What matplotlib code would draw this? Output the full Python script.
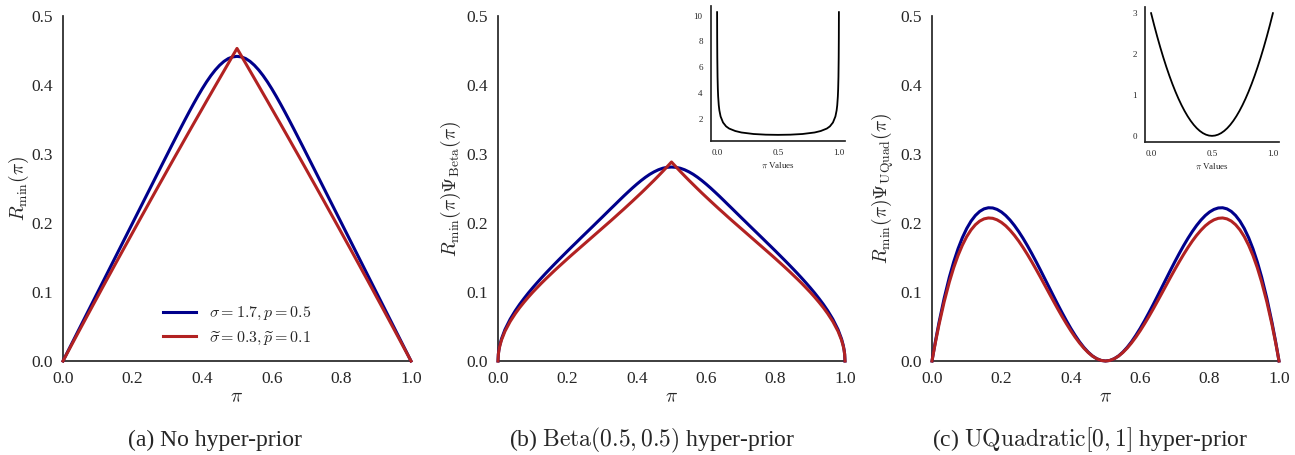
import matplotlib
matplotlib.use('Agg')
import matplotlib.pyplot as plt

# prior values on the x axis (same grid for all three panels)
pi_vals = [0.0, 0.001, 0.0025, 0.005, 0.01, 0.02, 0.035, 0.05, 0.0625, 0.075, 0.0875, 0.1, 0.1125,
           0.125, 0.1375, 0.15, 0.1625, 0.175, 0.1875, 0.2, 0.2125, 0.225, 0.2375, 0.25, 0.2625,
           0.275, 0.2875, 0.3, 0.3125, 0.325, 0.3375, 0.35, 0.3625, 0.375, 0.3875, 0.4, 0.4125,
           0.425, 0.4375, 0.45, 0.4625, 0.475, 0.4875, 0.5,
           0.5125, 0.525, 0.5375, 0.55, 0.5625, 0.575, 0.5875, 0.6, 0.6125, 0.625, 0.6375, 0.65,
           0.6625, 0.675, 0.6875, 0.7, 0.7125, 0.725, 0.7375, 0.75, 0.7625, 0.775, 0.7875, 0.8,
           0.8125, 0.825, 0.8375, 0.85, 0.8625, 0.875, 0.8875, 0.9, 0.9125, 0.925, 0.9375, 0.95,
           0.965, 0.98, 0.99, 0.995, 0.9975, 0.999, 1.0]

# (a) R_min(pi), no hyper-prior
a_blue = [0.0, 0.001, 0.0025, 0.005, 0.01, 0.02, 0.035, 0.05, 0.0625, 0.075, 0.0875, 0.1, 0.1125,
          0.125, 0.1375, 0.15, 0.1625, 0.175, 0.1875, 0.2, 0.2125, 0.225, 0.2375, 0.25, 0.2625,
          0.275, 0.2875, 0.2999, 0.3124, 0.3247, 0.3370, 0.3491, 0.3610, 0.3726, 0.3838, 0.3945, 0.4045,
          0.4136, 0.4217, 0.4286, 0.4342, 0.4383, 0.4407, 0.4415,
          0.4407, 0.4383, 0.4342, 0.4286, 0.4217, 0.4136, 0.4045, 0.3945, 0.3838, 0.3726, 0.3610, 0.3491,
          0.3370, 0.3247, 0.3124, 0.2999, 0.2875, 0.275, 0.2625, 0.25, 0.2375, 0.225, 0.2125, 0.2,
          0.1875, 0.175, 0.1625, 0.15, 0.1375, 0.125, 0.1125, 0.1, 0.0875, 0.075, 0.0625, 0.05,
          0.035, 0.02, 0.01, 0.005, 0.0025, 0.001, 0.0]
a_red = [0.0, 0.00095, 0.00237, 0.00473, 0.00946, 0.0189, 0.0330, 0.0471, 0.0588, 0.0705, 0.0822, 0.0938, 0.1055,
         0.1171, 0.1286, 0.1402, 0.1517, 0.1632, 0.1746, 0.1861, 0.1975, 0.2089, 0.2202, 0.2316, 0.2429,
         0.2542, 0.2654, 0.2767, 0.2879, 0.2991, 0.3102, 0.3214, 0.3325, 0.3436, 0.3546, 0.3656, 0.3767,
         0.3876, 0.3986, 0.4095, 0.4204, 0.4313, 0.4422, 0.4530,
         0.4422, 0.4313, 0.4204, 0.4095, 0.3986, 0.3876, 0.3767, 0.3656, 0.3546, 0.3436, 0.3325, 0.3214,
         0.3102, 0.2991, 0.2879, 0.2767, 0.2654, 0.2542, 0.2429, 0.2316, 0.2202, 0.2089, 0.1975, 0.1861,
         0.1746, 0.1632, 0.1517, 0.1402, 0.1286, 0.1171, 0.1055, 0.0938, 0.0822, 0.0705, 0.0588, 0.0471,
         0.0330, 0.0189, 0.00946, 0.00473, 0.00237, 0.00095, 0.0]

# (b) R_min(pi) * Psi_Beta(pi)
b_blue = [0.0, 0.0101, 0.0159, 0.0226, 0.0320, 0.0455, 0.0606, 0.0730, 0.0822, 0.0906, 0.0986, 0.1061, 0.1133,
          0.1203, 0.1271, 0.1337, 0.1402, 0.1466, 0.1529, 0.1592, 0.1654, 0.1715, 0.1777, 0.1838, 0.1899,
          0.1960, 0.2022, 0.2083, 0.2145, 0.2207, 0.2268, 0.2330, 0.2391, 0.2450, 0.2508, 0.2563, 0.2615,
          0.2663, 0.2706, 0.2742, 0.2772, 0.2794, 0.2807, 0.2811,
          0.2807, 0.2794, 0.2772, 0.2742, 0.2706, 0.2663, 0.2615, 0.2563, 0.2508, 0.2450, 0.2391, 0.2330,
          0.2268, 0.2207, 0.2145, 0.2083, 0.2022, 0.1960, 0.1899, 0.1838, 0.1777, 0.1715, 0.1654, 0.1592,
          0.1529, 0.1466, 0.1402, 0.1337, 0.1271, 0.1203, 0.1133, 0.1061, 0.0986, 0.0906, 0.0822, 0.0730,
          0.0606, 0.0455, 0.0320, 0.0226, 0.0159, 0.0101, 0.0]
b_red = [0.0, 0.0095, 0.0151, 0.0214, 0.0303, 0.0430, 0.0572, 0.0688, 0.0774, 0.0852, 0.0926, 0.0996, 0.1062,
         0.1127, 0.1189, 0.1249, 0.1309, 0.1367, 0.1424, 0.1481, 0.1537, 0.1592, 0.1647, 0.1702, 0.1757,
         0.1812, 0.1867, 0.1922, 0.1977, 0.2032, 0.2088, 0.2145, 0.2201, 0.2259, 0.2317, 0.2376, 0.2435,
         0.2496, 0.2558, 0.2620, 0.2684, 0.2749, 0.2816, 0.2884,
         0.2816, 0.2749, 0.2684, 0.2620, 0.2558, 0.2496, 0.2435, 0.2376, 0.2317, 0.2259, 0.2201, 0.2145,
         0.2088, 0.2032, 0.1977, 0.1922, 0.1867, 0.1812, 0.1757, 0.1702, 0.1647, 0.1592, 0.1537, 0.1481,
         0.1424, 0.1367, 0.1309, 0.1249, 0.1189, 0.1127, 0.1062, 0.0996, 0.0926, 0.0852, 0.0774, 0.0688,
         0.0572, 0.0430, 0.0303, 0.0214, 0.0151, 0.0095, 0.0]

# (c) R_min(pi) * Psi_UQuad(pi)
c_blue = [0.0, 0.0030, 0.0074, 0.0147, 0.0288, 0.0553, 0.0908, 0.1215, 0.1436, 0.1626, 0.1787, 0.1920, 0.2027,
          0.2109, 0.2168, 0.2205, 0.2221, 0.2218, 0.2197, 0.2160, 0.2108, 0.2042, 0.1964, 0.1875, 0.1777,
          0.1671, 0.1558, 0.1440, 0.1318, 0.1193, 0.1068, 0.0943, 0.0819, 0.0699, 0.0583, 0.0473, 0.0372,
          0.0279, 0.0198, 0.0129, 0.0073, 0.0033, 0.0008, 0.0,
          0.0008, 0.0033, 0.0073, 0.0129, 0.0198, 0.0279, 0.0372, 0.0473, 0.0583, 0.0699, 0.0819, 0.0943,
          0.1068, 0.1193, 0.1318, 0.1440, 0.1558, 0.1671, 0.1777, 0.1875, 0.1964, 0.2042, 0.2108, 0.2160,
          0.2197, 0.2218, 0.2221, 0.2205, 0.2168, 0.2109, 0.2027, 0.1920, 0.1787, 0.1626, 0.1436, 0.1215,
          0.0908, 0.0553, 0.0288, 0.0147, 0.0074, 0.0030, 0.0]
c_red = [0.0, 0.0028, 0.0070, 0.0139, 0.0273, 0.0523, 0.0857, 0.1145, 0.1352, 0.1529, 0.1678, 0.1802, 0.1900,
         0.1975, 0.2028, 0.2060, 0.2073, 0.2068, 0.2046, 0.2009, 0.1959, 0.1895, 0.1821, 0.1737, 0.1644,
         0.1544, 0.1438, 0.1328, 0.1215, 0.1099, 0.0983, 0.0868, 0.0754, 0.0644, 0.0539, 0.0439, 0.0346,
         0.0262, 0.0187, 0.0123, 0.0071, 0.0032, 0.0008, 0.0,
         0.0008, 0.0032, 0.0071, 0.0123, 0.0187, 0.0262, 0.0346, 0.0439, 0.0539, 0.0644, 0.0754, 0.0868,
         0.0983, 0.1099, 0.1215, 0.1328, 0.1438, 0.1544, 0.1644, 0.1737, 0.1821, 0.1895, 0.1959, 0.2009,
         0.2046, 0.2068, 0.2073, 0.2060, 0.2028, 0.1975, 0.1900, 0.1802, 0.1678, 0.1529, 0.1352, 0.1145,
         0.0857, 0.0523, 0.0273, 0.0139, 0.0070, 0.0028, 0.0]

# inset curves (hyper-prior densities)
beta_x = [0.0013, 0.002, 0.003, 0.005, 0.0075, 0.01, 0.015, 0.02, 0.03, 0.05, 0.075, 0.1, 0.15, 0.2, 0.3,
          0.4, 0.5, 0.6, 0.7, 0.8, 0.85, 0.9, 0.925, 0.95, 0.97, 0.98, 0.985, 0.99, 0.9925, 0.995,
          0.997, 0.998, 0.9987]
beta_y = [10.27, 8.28, 6.77, 5.25, 4.29, 3.72, 3.04, 2.64, 2.17, 1.70, 1.40, 1.23, 1.04, 0.925, 0.807,
          0.755, 0.74, 0.755, 0.807, 0.925, 1.04, 1.23, 1.40, 1.70, 2.17, 2.64, 3.04, 3.72, 4.29, 5.25,
          6.77, 8.28, 10.27]
uquad_x = [0.0, 0.025, 0.05, 0.075, 0.1, 0.125, 0.15, 0.175, 0.2, 0.225, 0.25, 0.275, 0.3, 0.325, 0.35,
           0.375, 0.4, 0.425, 0.45, 0.475, 0.5, 0.525, 0.55, 0.575, 0.6, 0.625, 0.65, 0.675, 0.7, 0.725,
           0.75, 0.775, 0.8, 0.825, 0.85, 0.875, 0.9, 0.925, 0.95, 0.975, 1.0]
uquad_y = [3.0, 2.7075, 2.43, 2.1675, 1.92, 1.6875, 1.47, 1.2675, 1.08, 0.9075, 0.75, 0.6075, 0.48, 0.3675,
           0.27, 0.1875, 0.12, 0.0675, 0.03, 0.0075, 0.0, 0.0075, 0.03, 0.0675, 0.12, 0.1875, 0.27, 0.3675,
           0.48, 0.6075, 0.75, 0.9075, 1.08, 1.2675, 1.47, 1.6875, 1.92, 2.1675, 2.43, 2.7075, 3.0]

labels = [r'$\sigma = 1.7, p = 0.5$', r'$\widetilde{\sigma} = 0.3, \widetilde{p} = 0.1$']
ylabels = [r'$R_{\min}(\pi)$',
           r'$R_{\min}(\pi)\Psi_{\mathrm{Beta}}(\pi)$',
           r'$R_{\min}(\pi)\Psi_{\mathrm{UQuad}}(\pi)$']
captions = ['(a) No hyper-prior',
            r'(b) $\mathrm{Beta}(0.5, 0.5)$ hyper-prior',
            r'(c) $\mathrm{UQuadratic}[0, 1]$ hyper-prior']

plt.rcParams.update({
    'font.family': 'serif',
    'font.serif': ['Liberation Serif', 'DejaVu Serif'],
    'mathtext.fontset': 'cm',
    'axes.edgecolor': '.15',
    'axes.linewidth': 1.25,
    'text.color': '.15',
    'axes.labelcolor': '.15',
    'xtick.color': '.15',
    'ytick.color': '.15',
})

W, H = 1295, 455
fig = plt.figure(figsize=(W / 100, H / 100), dpi=100)


def px_axes(left, right, top, bottom):
    return fig.add_axes([left / W, 1 - bottom / H, (right - left) / W, (bottom - top) / H])


BLUE = '#00008b'
RED = '#b22222'

panels = [(a_blue, a_red), (b_blue, b_red), (c_blue, c_red)]
lefts = [(63, 411), (498, 845), (932, 1279)]
ylab_x = [-0.092, -0.100, -0.105]
cap_x = [215, 652, 1090]

axes = []
for i, (blue, red) in enumerate(panels):
    ax = px_axes(lefts[i][0], lefts[i][1], 16, 361)
    ax.plot(pi_vals, blue, color=BLUE, lw=2.2, label=labels[0], clip_on=False, zorder=3)
    ax.plot(pi_vals, red, color=RED, lw=2.2, label=labels[1], clip_on=False, zorder=4)
    ax.set_xlim(0, 1)
    ax.set_ylim(0, 0.5)
    ax.set_xticks([0.0, 0.2, 0.4, 0.6, 0.8, 1.0])
    ax.set_yticks([0.0, 0.1, 0.2, 0.3, 0.4, 0.5])
    ax.spines['top'].set_visible(False)
    ax.spines['right'].set_visible(False)
    ax.tick_params(length=0, pad=7, labelsize=12.5)
    ax.set_xlabel(r'$\pi$', fontsize=14, labelpad=2)
    ax.set_ylabel(ylabels[i], fontsize=14)
    ax.yaxis.set_label_coords(ylab_x[i], 0.5)
    fig.text(cap_x[i] / W, 9 / H, captions[i], ha='center', va='baseline', fontsize=17)
    axes.append(ax)

axes[0].legend(loc='lower center', frameon=False, fontsize=11.5, handlelength=2.1,
               handletextpad=0.8, labelspacing=0.45, borderaxespad=0.5)

# insets
insets = [(711, 845, 6, 141, beta_x, beta_y, [2, 4, 6, 8, 10]),
          (1145, 1279, 7, 142, uquad_x, uquad_y, [0, 1, 2, 3])]
for left, right, top, bottom, xs, ys, yt in insets:
    ins = px_axes(left, right, top, bottom)
    ins.plot(xs, ys, color='black', lw=1.3)
    ins.set_xticks([0.0, 0.5, 1.0])
    ins.set_yticks(yt)
    ins.spines['top'].set_visible(False)
    ins.spines['right'].set_visible(False)
    ins.tick_params(length=0, pad=6, labelsize=6.5)
    ins.set_xlabel(r'$\pi$ Values', fontsize=6.5, labelpad=2)

fig.savefig('out.png', dpi=100)
